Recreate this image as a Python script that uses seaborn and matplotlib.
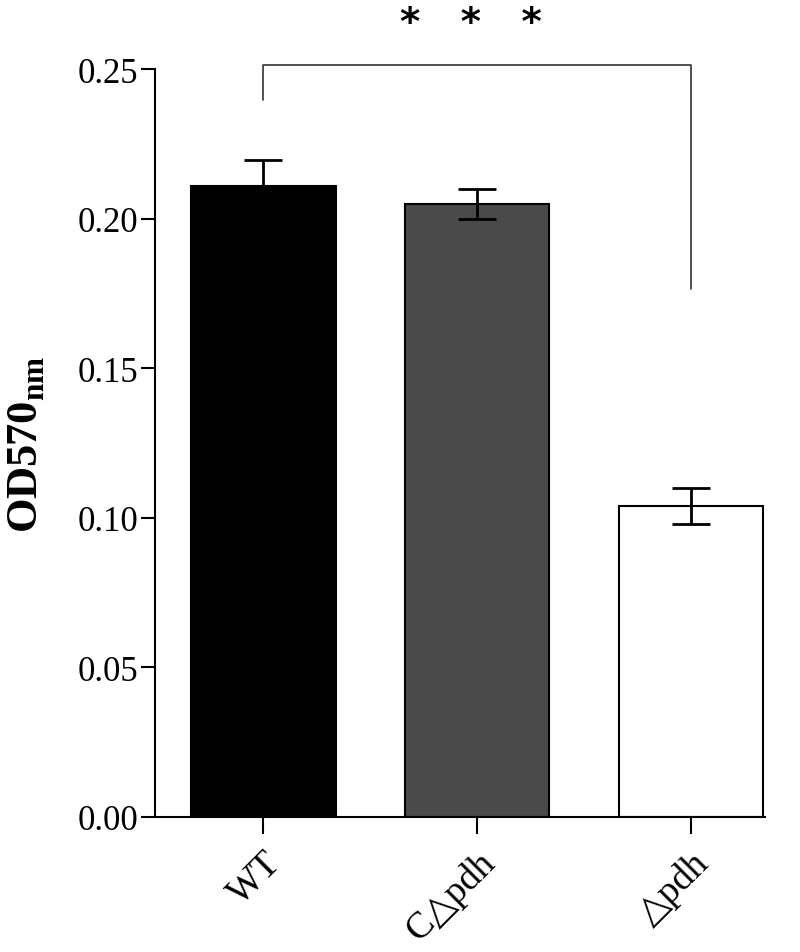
import matplotlib
matplotlib.use("Agg")
import matplotlib.pyplot as plt
import seaborn as sns
import pandas as pd

# values
strains = ["WT", "C\u25b3pdh", "\u25b3pdh"]
od570 = [0.211, 0.205, 0.104]
od570_err = [0.0085, 0.005, 0.006]
bar_colors = ["#000000", "#4a4a4a", "#ffffff"]

# significance bracket (WT vs deletion)
bracket_pair = [0, 2]
bracket_top = 0.2515
bracket_ends = [0.2395, 0.1765]
stars = "*   *   *"

df = pd.DataFrame({"strain": strains, "od": od570})

sns.set_style("ticks")
plt.rcParams["font.family"] = ["Liberation Serif", "DejaVu Sans"]
plt.rcParams.update({"text.color": "black", "axes.labelcolor": "black",
                     "xtick.color": "black", "ytick.color": "black",
                     "axes.edgecolor": "black"})

fig = plt.figure(figsize=(8, 9.53), dpi=100)
ax = fig.add_axes([0.194, 0.1417, 0.762, 0.7848])

sns.barplot(data=df, x="strain", y="od", hue="strain", palette=bar_colors,
            legend=False, width=0.675, edgecolor="black", linewidth=1.5,
            saturation=1, ax=ax)

ax.errorbar(range(len(strains)), od570, yerr=od570_err, fmt="none",
            ecolor="black", elinewidth=2, capsize=14, capthick=2, zorder=5)

# bracket and stars
x0, x1 = bracket_pair
ax.plot([x0, x0, x1, x1], [bracket_ends[0], bracket_top, bracket_top, bracket_ends[1]],
        color="#333333", lw=1.2, clip_on=False)
ax.text((x0 + x1) / 2 - 0.03, 0.2655, stars, ha="center", va="center",
        fontsize=28, fontweight="bold", family="DejaVu Sans", color="black",
        clip_on=False)

ax.set_xlim(-0.506, 2.345)
ax.set_ylim(0, 0.25)
ax.set_yticks([0, 0.05, 0.10, 0.15, 0.20, 0.25])
ax.set_yticklabels([f"{v:.2f}" for v in ax.get_yticks()])
ax.set_xlabel("")
ax.set_ylabel("OD570$_{\\mathregular{nm}}$", fontsize=32, fontweight="bold", labelpad=22)

ax.tick_params(axis="y", labelsize=25, length=10, width=1.5, direction="out", pad=2)
ax.tick_params(axis="x", labelsize=27, length=12, width=1.5, direction="out", pad=8)
for lab in ax.get_xticklabels():
    lab.set_rotation(45)
    lab.set_ha("right")
    lab.set_rotation_mode("anchor")

for s in ["top", "right"]:
    ax.spines[s].set_visible(False)
for s in ["left", "bottom"]:
    ax.spines[s].set_linewidth(1.5)

fig.savefig("out.png", dpi=100)
